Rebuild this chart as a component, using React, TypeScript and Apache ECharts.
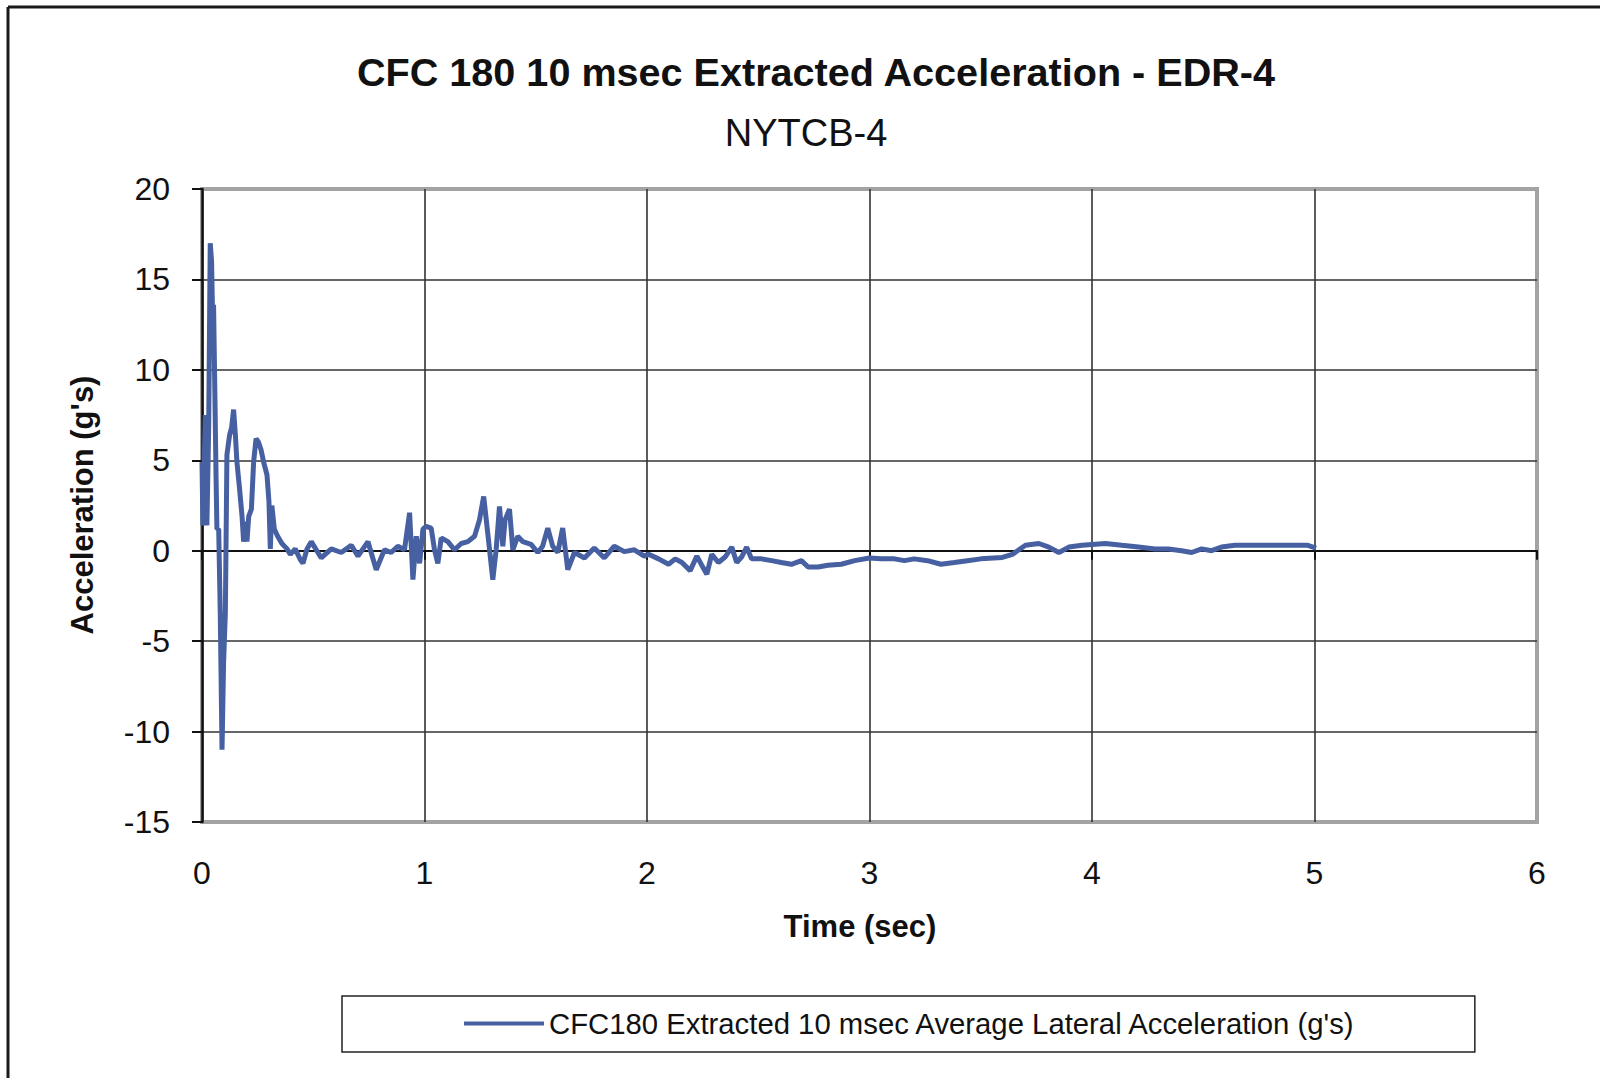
import React, { useEffect, useRef } from "react";
import * as echarts from "echarts";

const titleText = "CFC 180 10 msec Extracted Acceleration - EDR-4";
const subtitleText = "NYTCB-4";
const xAxisName = "Time (sec)";
const yAxisName = "Acceleration (g's)";
const seriesName = "CFC180 Extracted 10 msec Average Lateral Acceleration (g's)";

const timeSec = [
  0, 0.004, 0.01, 0.015, 0.022, 0.03, 0.037, 0.043, 0.048, 0.052, 0.058, 0.063, 0.067, 0.075, 0.082, 0.09,
  0.097, 0.105, 0.112, 0.124, 0.133, 0.142, 0.15, 0.157, 0.169, 0.18, 0.187, 0.195, 0.202, 0.21, 0.222,
  0.232, 0.243, 0.254, 0.265, 0.277, 0.292, 0.301, 0.307, 0.314, 0.325, 0.34, 0.359, 0.382, 0.397, 0.419,
  0.442, 0.454, 0.472, 0.491, 0.536, 0.581, 0.626, 0.671, 0.701, 0.746, 0.783, 0.82, 0.85, 0.88, 0.91,
  0.933, 0.948, 0.963, 0.978, 0.993, 1.007, 1.03, 1.045, 1.06, 1.075, 1.105, 1.135, 1.165, 1.195, 1.225,
  1.247, 1.266, 1.284, 1.307, 1.322, 1.337, 1.352, 1.362, 1.382, 1.397, 1.419, 1.442, 1.479, 1.509, 1.531,
  1.554, 1.576, 1.599, 1.621, 1.644, 1.674, 1.719, 1.763, 1.808, 1.853, 1.898, 1.943, 1.988, 2.007, 2.052,
  2.097, 2.127, 2.157, 2.194, 2.224, 2.246, 2.269, 2.291, 2.321, 2.351, 2.381, 2.403, 2.425, 2.448, 2.47,
  2.515, 2.56, 2.604, 2.649, 2.694, 2.724, 2.769, 2.813, 2.873, 2.933, 3.0, 3.052, 3.112, 3.157, 3.201,
  3.261, 3.321, 3.381, 3.44, 3.5, 3.597, 3.642, 3.701, 3.761, 3.806, 3.851, 3.896, 3.955, 4.06, 4.134,
  4.209, 4.284, 4.343, 4.403, 4.448, 4.493, 4.537, 4.582, 4.642, 4.701, 4.776, 4.836, 4.91, 4.97, 5.007,
];

const accelG = [
  4.9, 1.4, 4.9, 7.5, 1.4, 6.8, 17.0, 16.0, 12.7, 13.6, 8.6, 4.2, 1.2, 1.2, -3.4, -11.0,
  -6.2, -3.4, 5.3, 6.4, 6.8, 7.8, 6.4, 4.9, 3.4, 1.9, 0.5, 1.6, 0.5, 1.9, 2.3,
  4.9, 6.2, 6.0, 5.6, 4.9, 4.2, 2.7, 0.1, 2.5, 1.2, 0.8, 0.4, 0.1, -0.2, 0.1,
  -0.5, -0.7, 0.1, 0.5, -0.4, 0.1, -0.1, 0.3, -0.3, 0.5, -1.05, 0.05, -0.1, 0.25, 0.05,
  2.1, -1.6, 0.8, -0.7, 1.2, 1.35, 1.25, 0.05, -0.7, 0.7, 0.5, 0.05, 0.4, 0.5, 0.8,
  1.7, 3.0, 1.0, -1.6, 0.05, 2.45, 0.25, 1.7, 2.3, 0.05, 0.8, 0.5, 0.35, -0.1, 0.25,
  1.25, 0.25, -0.1, 1.25, -1.05, -0.1, -0.4, 0.15, -0.4, 0.25, -0.05, 0.05, -0.3, -0.2, -0.45,
  -0.75, -0.45, -0.65, -1.1, -0.3, -0.8, -1.3, -0.2, -0.65, -0.35, 0.2, -0.65, -0.35, 0.2, -0.45,
  -0.45, -0.55, -0.65, -0.75, -0.55, -0.9, -0.9, -0.8, -0.75, -0.55, -0.4, -0.45, -0.45, -0.55, -0.45,
  -0.55, -0.75, -0.65, -0.55, -0.45, -0.37, -0.2, 0.3, 0.4, 0.2, -0.1, 0.2, 0.3, 0.4, 0.3,
  0.2, 0.1, 0.1, 0.0, -0.1, 0.1, 0.0, 0.2, 0.3, 0.3, 0.3, 0.3, 0.3, 0.3, 0.15,
];

const xTicks = { min: 0, max: 6, interval: 1 };
const yTicks = { min: -15, max: 20, interval: 5 };

const FONT = "'Liberation Sans', Arial, sans-serif";
const LINE_COLOR = "#4660a2";
const GRID_COLOR = "#333333";

export default function App() {
  const ref = useRef<HTMLDivElement>(null);

  useEffect(() => {
    if (!ref.current) return;
    const chart = echarts.init(ref.current, undefined, { renderer: "svg" });
    const data = timeSec.map((t, i) => [t, accelG[i]]);

    chart.setOption({
      animation: false,
      backgroundColor: "#ffffff",
      textStyle: { fontFamily: FONT },
      grid: {
        left: 202,
        top: 189,
        width: 1335,
        height: 633,
        show: true,
        borderColor: "#a3a3a3",
        borderWidth: 4,
        backgroundColor: "#ffffff",
      },
      xAxis: [
        {
          type: "value",
          min: xTicks.min,
          max: xTicks.max,
          interval: xTicks.interval,
          axisLine: { show: false, onZero: false },
          axisTick: { show: false },
          axisLabel: { fontSize: 32, color: "#111", margin: 35, fontFamily: FONT },
          splitLine: {
            show: true,
            showMinLine: false,
            showMaxLine: false,
            lineStyle: { color: GRID_COLOR, width: 1.6 },
          },
        },
        {
          type: "value",
          min: xTicks.min,
          max: xTicks.max,
          interval: xTicks.interval,
          position: "bottom",
          axisLine: { show: true, onZero: true, lineStyle: { color: "#111", width: 2 } },
          axisTick: { show: true, length: 9, lineStyle: { color: "#111", width: 2 } },
          axisLabel: { show: false },
          splitLine: { show: false },
        },
      ],
      yAxis: {
        type: "value",
        min: yTicks.min,
        max: yTicks.max,
        interval: yTicks.interval,
        axisLine: { show: true, onZero: false, lineStyle: { color: "#111", width: 2.5 } },
        axisTick: { show: true, length: 10, lineStyle: { color: "#111", width: 2 } },
        axisLabel: { fontSize: 32, color: "#111", margin: 32, fontFamily: FONT },
        splitLine: {
          show: true,
          showMinLine: false,
          showMaxLine: false,
          lineStyle: { color: GRID_COLOR, width: 1.6 },
        },
      },
      legend: {
        left: 342,
        top: 996,
        padding: [13, 118, 14, 122],
        itemWidth: 80,
        itemHeight: 4,
        borderColor: "#222",
        borderWidth: 1.5,
        textStyle: { fontSize: 29.3, color: "#111", fontFamily: FONT },
        data: [{ name: seriesName, icon: "rect" }],
      },
      series: [
        {
          name: seriesName,
          type: "line",
          data,
          showSymbol: false,
          symbol: "none",
          lineStyle: { color: LINE_COLOR, width: 5 },
          itemStyle: { color: LINE_COLOR },
          z: 5,
        },
      ],
      graphic: [
        {
          type: "line",
          shape: { x1: 8, y1: 7, x2: 1600, y2: 7 },
          style: { stroke: "#1a1a1a", lineWidth: 3 },
        },
        {
          type: "line",
          shape: { x1: 8, y1: 7, x2: 8, y2: 1078 },
          style: { stroke: "#1a1a1a", lineWidth: 3 },
        },
        {
          type: "text",
          x: 816,
          y: 72,
          style: {
            text: titleText,
            font: `bold 39.6px ${FONT}`,
            fill: "#111",
            textAlign: "center",
            textVerticalAlign: "middle",
          },
        },
        {
          type: "text",
          x: 806,
          y: 133,
          style: {
            text: subtitleText,
            font: `38px ${FONT}`,
            fill: "#111",
            textAlign: "center",
            textVerticalAlign: "middle",
          },
        },
        {
          type: "text",
          x: 860,
          y: 926,
          style: {
            text: xAxisName,
            font: `bold 31px ${FONT}`,
            fill: "#111",
            textAlign: "center",
            textVerticalAlign: "middle",
          },
        },
        {
          type: "text",
          x: 82,
          y: 505,
          rotation: Math.PI / 2,
          style: {
            text: yAxisName,
            font: `bold 31px ${FONT}`,
            fill: "#111",
            textAlign: "center",
            textVerticalAlign: "middle",
          },
        },
      ],
    });

    return () => chart.dispose();
  }, []);

  return (
    <div
      ref={ref}
      style={{ position: "fixed", left: 0, top: 0, width: 1600, height: 1078, background: "#fff" }}
    />
  );
}
